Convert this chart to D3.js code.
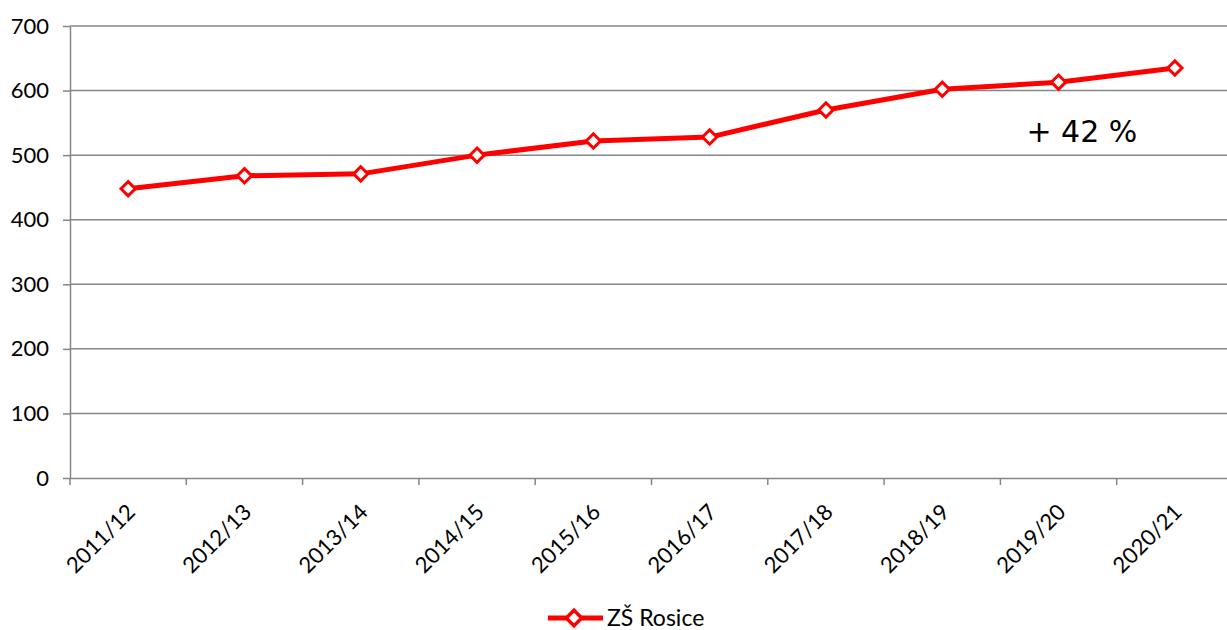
<!DOCTYPE html>
<html>
<head>
<meta charset="utf-8">
<script src="https://cdn.jsdelivr.net/npm/d3@7"></script>
<style>
	body { margin: 0; background: #fff; }
	svg { display: block; }
	.axis text { font-family: Lato, 'DejaVu Sans', sans-serif; fill: #000; }
	.axis--y text { font-size: 22px; }
	.axis--x text { font-size: 22px; }
	.axis path, .axis line { stroke: #868686; stroke-width: 1.5px; }
	.grid line { stroke: #868686; stroke-width: 1.5px; }
</style>
</head>
<body>
<script>
const WIDTH = 1227;
const HEIGHT = 630;

const YEARS = ['2011/12', '2012/13', '2013/14', '2014/15', '2015/16', '2016/17', '2017/18', '2018/19', '2019/20', '2020/21'];
const PUPILS = [448, 468, 471, 500, 522, 528, 570, 602, 613, 635];
const Y_TICKS = [0, 100, 200, 300, 400, 500, 600, 700];
const SERIES_NAME = 'ZŠ Rosice';
const NOTE = '+ 42 %';

const RED = '#ff0000';
const margin = { top: 26, right: -6, bottom: 152, left: 70 };
const chartWidth = WIDTH - margin.left - margin.right;
const chartHeight = HEIGHT - margin.top - margin.bottom;

const x = d3.scaleBand().domain(YEARS).range([0, chartWidth]);
const y = d3.scaleLinear().domain([0, 700]).range([chartHeight, 0]);

const svg = d3.select('body').append('svg')
	.attr('width', WIDTH)
	.attr('height', HEIGHT);

const g = svg.append('g')
	.attr('transform', `translate(${margin.left}, ${margin.top})`);

// horizontal gridlines
g.append('g')
	.attr('class', 'grid')
	.selectAll('line')
	.data(Y_TICKS.filter(d => d > 0))
	.join('line')
	.attr('x1', 0)
	.attr('x2', chartWidth)
	.attr('y1', d => y(d))
	.attr('y2', d => y(d));

const axisY = d3.axisLeft(y)
	.tickValues(Y_TICKS)
	.tickSizeInner(7)
	.tickSizeOuter(0)
	.tickPadding(14);

g.append('g')
	.attr('class', 'axis axis--y')
	.call(axisY);

// x axis ticks sit on band edges, like a category axis
const axisX = d3.axisBottom(x)
	.tickSizeInner(0)
	.tickSizeOuter(0);

const gx = g.append('g')
	.attr('class', 'axis axis--x')
	.attr('transform', `translate(0, ${chartHeight})`)
	.call(axisX);

gx.selectAll('.tick line').remove();
gx.selectAll('.tick text')
	.attr('text-anchor', 'end')
	.attr('y', 0)
	.attr('dy', '0.35em')
	.attr('transform', 'translate(3, 30) rotate(-45)');

gx.selectAll('.edge')
	.data(YEARS)
	.join('line')
	.attr('class', 'edge')
	.attr('x1', d => x(d))
	.attr('x2', d => x(d))
	.attr('y1', 0)
	.attr('y2', 7);

const line = d3.line()
	.x((d, i) => x(YEARS[i]) + x.bandwidth() / 2)
	.y(d => y(d));

g.append('path')
	.datum(PUPILS)
	.attr('fill', 'none')
	.attr('stroke', RED)
	.attr('stroke-width', 5)
	.attr('stroke-linejoin', 'round')
	.attr('d', line);

const diamond = d3.symbol().type(d3.symbolDiamond2).size(130);

g.selectAll('.marker')
	.data(PUPILS)
	.join('path')
	.attr('class', 'marker')
	.attr('d', diamond)
	.attr('transform', (d, i) => `translate(${x(YEARS[i]) + x.bandwidth() / 2}, ${y(d)})`)
	.attr('fill', '#fff')
	.attr('stroke', RED)
	.attr('stroke-width', 3);

g.append('text')
	.attr('x', x('2019/20') + 26)
	.attr('y', y(520))
	.attr('font-family', "'DejaVu Sans', Verdana, sans-serif")
	.attr('font-size', 30)
	.text(NOTE);

// legend
const legend = svg.append('g')
	.attr('transform', 'translate(548, 618)');

legend.append('line')
	.attr('x1', 0)
	.attr('x2', 55)
	.attr('stroke', RED)
	.attr('stroke-width', 5);

legend.append('path')
	.attr('d', d3.symbol().type(d3.symbolDiamond2).size(150))
	.attr('transform', 'translate(26, 0)')
	.attr('fill', '#fff')
	.attr('stroke', RED)
	.attr('stroke-width', 3.5);

legend.append('text')
	.attr('x', 59)
	.attr('y', 8)
	.attr('font-family', 'Lato, sans-serif')
	.attr('font-size', 23)
	.text(SERIES_NAME);
</script>
</body>
</html>
